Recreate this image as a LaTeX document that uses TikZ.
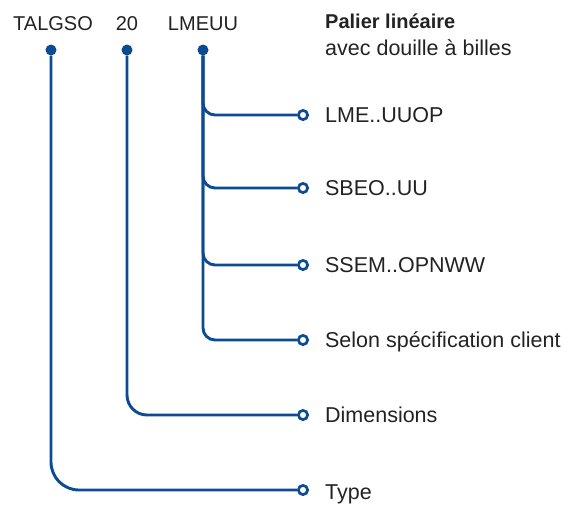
\documentclass[tikz,border=0pt]{standalone}
\usepackage{fontspec}
\setmainfont{Liberation Sans}
\usetikzlibrary{positioning}
\definecolor{codeBlue}{HTML}{0C4A92}
\definecolor{codeInk}{HTML}{222222}

\begin{document}
\begin{tikzpicture}[x=1pt, y=1pt,
      link/.style={draw=codeBlue, line width=2.9pt},
      dot/.style={circle, fill=codeBlue, inner sep=0pt, minimum size=11pt},
      ring/.style={circle, draw=codeBlue, line width=2.7pt, fill=white,
                   inner sep=0pt, minimum size=9.2pt},
      lbl/.style={anchor=west, text=codeInk, font=\fontsize{21.5}{25}\selectfont,
                  text height=15pt, text depth=0pt, inner sep=0pt},
      code/.style={anchor=base, text=codeInk, font=\fontsize{20}{24}\selectfont,
                   inner sep=0pt}]
    \useasboundingbox (0,0) rectangle (571,-504);
    % code parts
    \node[code] (tgt) at (53,-30.5)  {TALGSO};
    \node[code] (szt) at (127,-30.5) {20};
    \node[code] (lmt) at (203,-30.5) {LMEUU};
    \node[dot] (tg) at (51,-50)  {};
    \node[dot] (sz) at (127,-50) {};
    \node[dot] (lm) at (203,-50) {};
    % heading
    \node[code, anchor=base west] (hd) at (325,-28) {\bfseries Palier lin\'eaire};
    \node[code, anchor=base west, font=\fontsize{21.5}{25}\selectfont]
      (hs) at (325,-55) {avec douille \`a billes};
    % branches of the last part
    \foreach \y/\n/\t in {115/o1/LME..UUOP, 188/o2/SBEO..UU,
                          265/o3/SSEM..OPNWW, 340/o4/Selon sp\'ecification client}
      {\node[ring] (\n) at (303,-\y) {};
       \draw[link, rounded corners=12pt] (lm) |- (\n);
       \node[lbl, right=16pt of \n] (\n t) {\t};}
    % size and type
    \node[ring] (di) at (303,-415) {};
    \node[ring] (ty) at (303,-490) {};
    \draw[link, rounded corners=20pt] (sz) |- (di);
    \draw[link, rounded corners=28pt] (tg) |- (ty);
    \node[lbl, right=16pt of di] (dit) {Dimensions};
    \node[lbl, right=16pt of ty, yshift=-2pt] (tyt) {Type};
  \end{tikzpicture}
\end{document}
